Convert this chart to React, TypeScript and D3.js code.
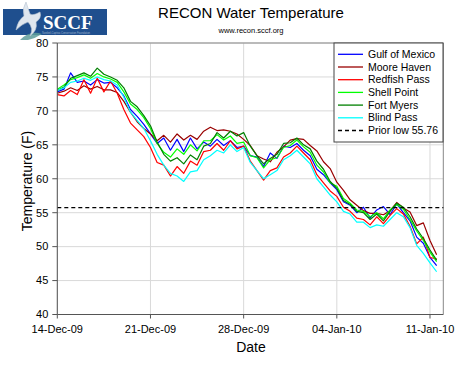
import React from 'react';
import * as d3 from 'd3';

const W = 474;
const H = 367;

const startDate = new Date(Date.UTC(2009, 11, 14));
const endDate = new Date(Date.UTC(2010, 0, 12));
const tickDates = [
  new Date(Date.UTC(2009, 11, 14)),
  new Date(Date.UTC(2009, 11, 21)),
  new Date(Date.UTC(2009, 11, 28)),
  new Date(Date.UTC(2010, 0, 4)),
  new Date(Date.UTC(2010, 0, 11)),
];
const yTicks = [40, 45, 50, 55, 60, 65, 70, 75, 80];
const stepHours = 12;

const gulfOfMexico = [72.8, 73.2, 75.6, 74.2, 74.4, 73.8, 74.6, 74.1, 74.2, 73.4, 72.2, 70.2, 69.2, 68.0, 66.6, 65.2, 66.0, 64.2, 65.8, 64.0, 66.0, 64.4, 65.4, 64.8, 65.8, 64.9, 65.6, 64.6, 64.8, 63.4, 63.2, 61.8, 63.8, 63.0, 64.8, 64.6, 65.2, 64.2, 63.4, 61.4, 60.6, 59.4, 58.4, 56.6, 56.1, 55.0, 55.8, 54.2, 55.4, 55.9, 54.7, 56.3, 55.0, 53.8, 51.4, 50.5, 48.4, 47.2];
const mooreHaven = [72.6, 72.9, 73.4, 73.0, 73.7, 73.2, 73.6, 73.1, 73.1, 72.7, 71.4, 69.8, 68.4, 67.4, 66.6, 65.6, 66.4, 65.4, 66.6, 65.7, 66.4, 65.8, 67.0, 67.6, 67.1, 67.2, 67.0, 66.6, 65.8, 64.9, 63.4, 62.9, 62.5, 63.9, 64.7, 65.7, 65.9, 65.8, 64.9, 64.1, 62.5, 61.5, 59.5, 58.3, 56.9, 56.1, 55.3, 54.9, 54.9, 54.7, 55.3, 56.5, 55.7, 55.1, 53.1, 53.5, 50.9, 48.8];
const redfishPass = [72.4, 72.2, 73.0, 72.4, 74.6, 72.6, 74.8, 72.8, 74.4, 72.6, 70.2, 68.2, 67.2, 66.2, 64.6, 62.4, 62.0, 60.4, 61.8, 60.8, 62.6, 62.0, 64.0, 64.2, 65.2, 64.2, 65.6, 64.4, 64.8, 62.6, 61.2, 59.8, 61.2, 61.6, 63.2, 63.8, 64.8, 63.8, 62.8, 60.6, 59.4, 58.2, 57.4, 55.8, 55.2, 54.2, 54.0, 53.2, 54.4, 53.4, 54.6, 55.6, 54.8, 53.0, 50.4, 51.4, 48.4, 48.2];
const shellPoint = [73.2, 73.8, 74.6, 74.9, 75.3, 74.8, 75.5, 75.0, 74.7, 74.2, 72.8, 71.0, 70.2, 69.0, 67.4, 65.2, 63.9, 63.2, 64.4, 63.6, 65.0, 64.1, 65.6, 65.6, 66.5, 65.7, 66.3, 65.2, 65.4, 63.4, 63.1, 61.6, 62.8, 63.1, 64.6, 64.9, 65.7, 64.7, 63.9, 62.0, 61.0, 59.4, 58.9, 57.1, 56.4, 55.4, 55.2, 54.4, 55.0, 54.1, 55.4, 56.2, 55.5, 54.0, 52.3, 50.9, 49.2, 47.8];
const fortMyers = [73.0, 73.5, 74.8, 75.2, 75.6, 75.1, 76.3, 75.4, 75.0, 74.5, 73.4, 71.4, 70.6, 69.3, 67.8, 65.4, 63.6, 62.6, 63.1, 62.2, 63.5, 62.8, 64.8, 65.2, 66.8, 66.0, 67.0, 66.3, 66.8, 64.8, 63.4, 62.2, 63.0, 63.6, 65.2, 65.3, 66.0, 65.0, 64.4, 62.6, 61.4, 59.6, 58.6, 56.8, 56.2, 55.2, 55.0, 54.0, 54.8, 53.8, 55.2, 56.4, 55.8, 54.4, 52.6, 51.2, 49.5, 48.0];
const blindPass = [73.0, 73.4, 74.2, 74.4, 74.8, 74.5, 75.0, 74.6, 74.4, 73.8, 72.0, 69.8, 68.6, 67.4, 65.6, 63.6, 62.0, 60.8, 60.4, 59.6, 61.0, 61.2, 62.8, 63.4, 64.2, 63.8, 65.0, 64.0, 64.6, 62.4, 61.2, 60.0, 60.6, 61.2, 62.8, 63.4, 64.2, 63.2, 62.2, 60.0, 58.8, 57.6, 56.6, 55.2, 54.8, 53.6, 53.6, 52.8, 53.2, 53.0, 54.0, 55.0, 54.4, 52.8, 50.2, 49.0, 47.6, 46.3];

const seriesNames = ['Gulf of Mexico', 'Moore Haven', 'Redfish Pass', 'Shell Point', 'Fort Myers', 'Blind Pass'];
const seriesValues = [gulfOfMexico, mooreHaven, redfishPass, shellPoint, fortMyers, blindPass];
const seriesColors = ['#0000ff', '#990000', '#ff0000', '#00ff00', '#008000', '#00ffff'];
const priorLow = 55.76;
const priorLowLabel = 'Prior low 55.76';

const FONT = 'Liberation Sans, Arial, sans-serif';

export default function App() {
  const x = d3.scaleUtc().domain([startDate, endDate]).range([57.3, 443.3]);
  const y = d3.scaleLinear().domain([40, 80]).range([314.5, 43]);
  const fmt = d3.utcFormat('%d-%b-%y');
  const dateAt = (i: number) => new Date(startDate.getTime() + i * stepHours * 3600e3);
  const line = d3
    .line<number>()
    .x((_, i) => x(dateAt(i)))
    .y((d) => y(d));

  const [x0, x1] = x.range();
  const [yb, yt] = y.range();

  const legendX = 334;
  const legendY = 43;
  const legendW = 109;
  const legendH = 99;
  const rowH = 12.7;
  const row0 = 54.3;

  return (
    <svg
      width={W}
      height={H}
      style={{ position: 'absolute', left: 0, top: 0, background: '#fff' }}
      fontFamily={FONT}
    >
      <rect x={0} y={0} width={W} height={H} fill="#fff" />

      {/* Logo */}
      <g>
        <rect x={3} y={9} width={104} height={26} fill="#1f4f8e" />
        <path d="M20,40 Q30,30 42,34 Q36,38 28,40 Z" fill="#5e9c9a" opacity={0.85} />
        <path
          d="M26,2 Q22,8 24,16 Q18,20 16,30 Q22,24 28,22 Q34,28 30,36 Q38,30 36,22 Q42,18 40,12 Q33,16 30,14 Q28,8 26,2 Z"
          fill="#dfe6ee"
          stroke="#b8c4d2"
          strokeWidth={0.6}
        />
        <text x={43} y={28.5} fill="#fff" fontFamily="Liberation Serif, Times New Roman, serif" fontWeight="bold" fontSize={19}>
          SCCF
        </text>
        <text x={42} y={34.2} fill="#9fb3cc" fontSize={2.6}>
          Sanibel-Captiva Conservation Foundation
        </text>
      </g>

      {/* Titles */}
      <text x={251} y={18} textAnchor="middle" fontSize={15} fill="#000">
        RECON Water Temperature
      </text>
      <text x={251} y={33} textAnchor="middle" fontSize={7.5} fill="#000">
        www.recon.sccf.org
      </text>

      {/* Grid */}
      {yTicks.map((t) => (
        <line key={'gy' + t} x1={x0} x2={x1} y1={y(t)} y2={y(t)} stroke="#d9d9d9" strokeWidth={1} />
      ))}
      {tickDates.map((d) => (
        <line key={'gx' + d.getTime()} x1={x(d)} x2={x(d)} y1={yt} y2={yb} stroke="#d9d9d9" strokeWidth={1} />
      ))}
      {/* Frame */}
      <line x1={x0} x2={x1} y1={yt} y2={yt} stroke="#888" strokeWidth={1} />
      <line x1={x1} x2={x1} y1={yt} y2={yb} stroke="#888" strokeWidth={1} />

      {/* Series */}
      {seriesValues.map((vals, k) => (
        <path key={seriesNames[k]} d={line(vals) || ''} fill="none" stroke={seriesColors[k]} strokeWidth={1.2} strokeLinejoin="round" />
      ))}

      {/* Prior low */}
      <line x1={x0} x2={x1} y1={y(priorLow)} y2={y(priorLow)} stroke="#000" strokeWidth={1.3} strokeDasharray="4,3" />

      {/* Axes */}
      <line x1={x0} x2={x0} y1={yt} y2={yb} stroke="#555" strokeWidth={1} />
      <line x1={x0} x2={x1} y1={yb} y2={yb} stroke="#555" strokeWidth={1} />
      {yTicks.map((t) => (
        <g key={'yt' + t}>
          <line x1={x0 - 5} x2={x0} y1={y(t)} y2={y(t)} stroke="#555" />
          <text x={x0 - 9} y={y(t)} dy="0.35em" textAnchor="end" fontSize={11} fill="#000">
            {t}
          </text>
        </g>
      ))}
      {tickDates.map((d) => (
        <g key={'xt' + d.getTime()}>
          <line x1={x(d)} x2={x(d)} y1={yb} y2={yb + 4} stroke="#555" />
          <text x={x(d)} y={333} textAnchor="middle" fontSize={11} fill="#000">
            {fmt(d)}
          </text>
        </g>
      ))}
      <text x={251} y={352} textAnchor="middle" fontSize={14} fill="#000">
        Date
      </text>
      <text transform="translate(32,181) rotate(-90)" textAnchor="middle" fontSize={14} fill="#000">
        Temperature (F)
      </text>

      {/* Legend */}
      <rect x={legendX} y={legendY} width={legendW} height={legendH} fill="#fff" stroke="#444" strokeWidth={1} />
      {seriesNames.map((n, k) => (
        <g key={'lg' + n}>
          <line x1={338} x2={363} y1={row0 + k * rowH} y2={row0 + k * rowH} stroke={seriesColors[k]} strokeWidth={1.3} />
          <text x={368} y={row0 + k * rowH} dy="0.35em" fontSize={10.5} fill="#000">
            {n}
          </text>
        </g>
      ))}
      <line x1={338} x2={363} y1={row0 + 6 * rowH} y2={row0 + 6 * rowH} stroke="#000" strokeWidth={1.3} strokeDasharray="4,3" />
      <text x={368} y={row0 + 6 * rowH} dy="0.35em" fontSize={10.5} fill="#000">
        {priorLowLabel}
      </text>
    </svg>
  );
}
